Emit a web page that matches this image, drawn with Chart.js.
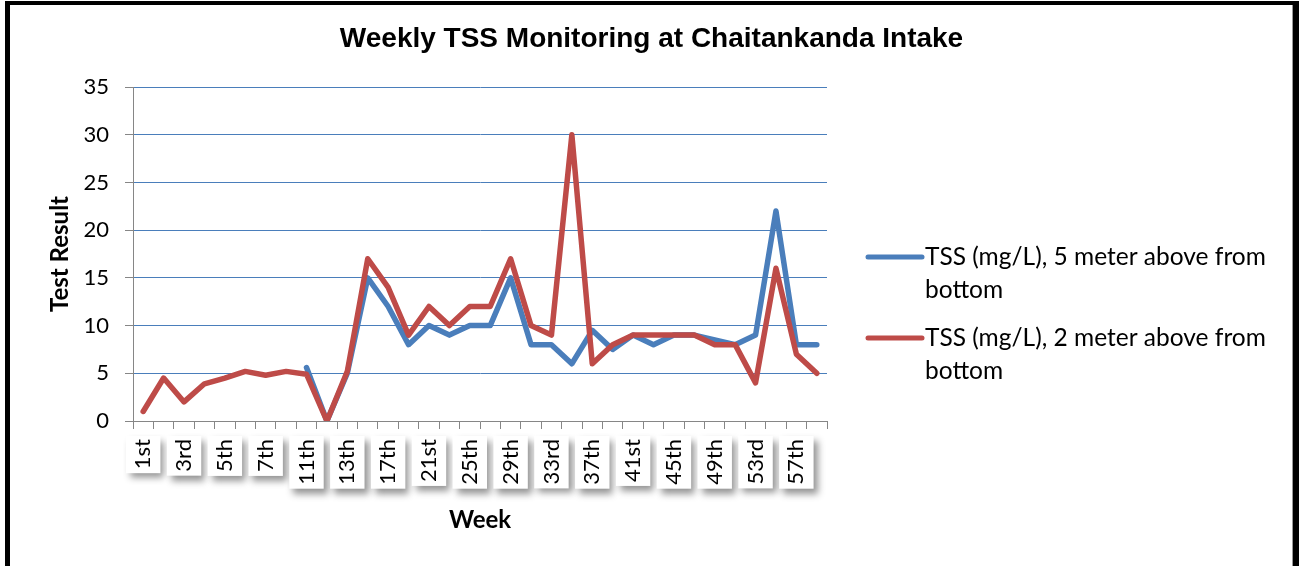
<!DOCTYPE html>
<html>
<head>
<meta charset="utf-8">
<script src="https://cdn.jsdelivr.net/npm/chart.js@4.4.1/dist/chart.umd.min.js"></script>
<style>
  html, body { margin: 0; padding: 0; background: #fff; overflow: hidden; }
  #wrap { position: relative; width: 1299px; height: 566px; }
  #frame {
    position: absolute; left: 5px; top: 1px; right: 0; height: 620px;
    border-left: 5px solid #000; border-top: 4px solid #000; border-right: 6px solid #000;
    box-shadow: inset -1px 0 0 #999; box-sizing: border-box; pointer-events: none;
  }
</style>
</head>
<body>
<div id="wrap"><canvas id="chart"></canvas><div id="frame"></div></div>
<script>
// weeks sampled (every other label is shown on the axis)
const weeks = ['1st','2nd','3rd','4th','5th','6th','7th','9th','11th','12th','13th','15th',
  '17th','19th','21st','23rd','25th','27th','29th','31st','33rd','35th','37th','39th',
  '41st','43rd','45th','47th','49th','51st','53rd','55th','57th','59th'];

// TSS (mg/L), 5 meter above from bottom
const tss5m = [null, null, null, null, null, null, null, null, 5.6, 0, 5, 15,
  12, 8, 10, 9, 10, 10, 15, 8, 8, 6, 9.5, 7.5,
  9, 8, 9, 9, 8.5, 8, 9, 22, 8, 8];

// TSS (mg/L), 2 meter above from bottom
const tss2m = [1, 4.5, 2, 3.9, 4.5, 5.2, 4.8, 5.2, 4.9, 0, 5.2, 17,
  14, 9, 12, 10, 12, 12, 17, 10, 9, 30, 6, 8,
  9, 9, 9, 9, 8, 8, 4, 16, 7, 5];

const seriesNames = ['TSS (mg/L), 5 meter above from bottom', 'TSS (mg/L), 2 meter above from bottom'];
const chartTitle = 'Weekly TSS Monitoring at Chaitankanda Intake';
const yMax = 35;
const yStep = 5;

const BLUE = '#4a7ebb';
const RED = '#be4b48';
const AXIS = '#868686';
const TICK_SIZE = 22;

Chart.defaults.font.family = 'Lato';
Chart.defaults.color = '#000';

// white boxes with grey drop shadows behind the rotated week labels
const labelShadow = {
  id: 'labelShadow',
  beforeDraw(chart) {
    const xs = chart.scales.x;
    const ctx = chart.ctx;
    ctx.save();
    ctx.font = TICK_SIZE + 'px Lato';
    ctx.fillStyle = '#fff';
    ctx.shadowColor = 'rgba(0,0,0,0.42)';
    ctx.shadowBlur = 7;
    ctx.shadowOffsetX = 4;
    ctx.shadowOffsetY = 5;
    xs.ticks.forEach((t, i) => {
      if (i % 2 !== 0) return;
      const x = xs.getPixelForTick(i);
      const w = ctx.measureText(weeks[i]).width;
      const h = TICK_SIZE * 1.2;
      const top = xs.top + xs.options.grid.tickLength + xs.options.ticks.padding - 3;
      ctx.fillRect(x - h / 2 - 4, top, h + 8, w + 7);
    });
    ctx.restore();
  }
};

// chart title centred on the whole picture
const wideTitle = {
  id: 'wideTitle',
  afterDraw(chart) {
    const ctx = chart.ctx;
    ctx.save();
    ctx.font = 'bold 28px "Liberation Sans"';
    ctx.fillStyle = '#000';
    ctx.textAlign = 'center';
    ctx.textBaseline = 'alphabetic';
    ctx.fillText(chartTitle, chart.width / 2 + 2, 47);
    ctx.restore();
  }
};

// legend on the right, wrapped onto two lines like the original
const sideLegend = {
  id: 'sideLegend',
  afterDraw(chart) {
    const ctx = chart.ctx;
    const x0 = chart.chartArea.right + 41;
    const maxW = 365;
    ctx.save();
    ctx.font = '24.5px Lato';
    ctx.textBaseline = 'middle';
    ctx.fillStyle = '#000';
    let y = chart.chartArea.top + 170;
    chart.data.datasets.forEach(ds => {
      ctx.strokeStyle = ds.borderColor;
      ctx.lineWidth = 5;
      ctx.lineCap = 'round';
      ctx.beginPath();
      ctx.moveTo(x0, y);
      ctx.lineTo(x0 + 54, y);
      ctx.stroke();
      const words = ds.label.split(' ');
      const lines = [];
      let cur = '';
      words.forEach(wd => {
        const test = cur ? cur + ' ' + wd : wd;
        if (ctx.measureText(test).width > maxW && cur) { lines.push(cur); cur = wd; }
        else cur = test;
      });
      lines.push(cur);
      lines.forEach((ln, k) => ctx.fillText(ln, x0 + 57, y + k * 33));
      y += 81;
    });
    ctx.restore();
  }
};

new Chart(document.getElementById('chart'), {
  type: 'line',
  data: {
    labels: weeks,
    datasets: [{
      label: seriesNames[0],
      data: tss5m,
      borderColor: BLUE,
      backgroundColor: BLUE,
      borderWidth: 5.5,
      order: 2
    }, {
      label: seriesNames[1],
      data: tss2m,
      borderColor: RED,
      backgroundColor: RED,
      borderWidth: 5.5,
      order: 1
    }]
  },
  options: {
    responsive: true,
    maintainAspectRatio: false,
    animation: false,
    elements: {
      point: { radius: 0, hoverRadius: 0 },
      line: { tension: 0, borderJoinStyle: 'round', borderCapStyle: 'round' }
    },
    layout: { padding: { left: 38, right: 472, top: 87, bottom: 20 } },
    plugins: {
      legend: { display: false },
      tooltip: { enabled: false },
      title: { display: false }
    },
    scales: {
      x: {
        type: 'category',
        offset: true,
        grid: { offset: true, drawOnChartArea: false, tickLength: 8, color: AXIS, tickColor: AXIS },
        border: { color: AXIS },
        ticks: {
          autoSkip: false,
          maxRotation: 90,
          minRotation: 90,
          padding: 10,
          font: { size: TICK_SIZE },
          color: '#000',
          callback: (v, i) => (i % 2 === 0 ? weeks[i] : '')
        },
        title: { display: true, text: 'Week', font: { size: 24, weight: 'bold' }, color: '#000', padding: { top: 0, bottom: 11 } },
        afterFit: s => { s.height = 125; }
      },
      y: {
        min: 0,
        max: yMax,
        ticks: { stepSize: yStep, padding: 16, font: { size: 22 }, color: '#000' },
        grid: {
          color: c => (c.tick && c.tick.value === 0 ? 'rgba(0,0,0,0)' : BLUE),
          tickColor: AXIS,
          tickLength: 8
        },
        border: { color: AXIS },
        title: { display: true, text: 'Test Result', font: { size: 24, weight: 'bold' }, color: '#000', padding: { top: 8, bottom: 0 } },
        afterFit: s => { s.width = 95; }
      }
    }
  },
  plugins: [labelShadow, wideTitle, sideLegend]
});
</script>
</body>
</html>
